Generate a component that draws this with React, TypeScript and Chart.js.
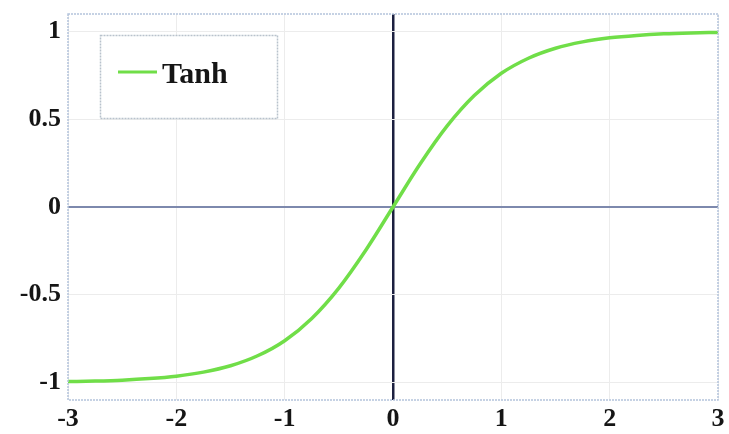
import React, { useEffect, useRef } from "react";
import { Chart, registerables } from "chart.js";

Chart.register(...registerables);

const xValues = [-3, -2.75, -2.5, -2.25, -2, -1.75, -1.5, -1.25, -1, -0.75, -0.5, -0.25, 0, 0.25, 0.5, 0.75, 1, 1.25, 1.5, 1.75, 2, 2.25, 2.5, 2.75, 3];
const tanhValues = [-0.995, -0.992, -0.987, -0.978, -0.964, -0.941, -0.905, -0.848, -0.762, -0.635, -0.462, -0.245, 0, 0.245, 0.462, 0.635, 0.762, 0.848, 0.905, 0.941, 0.964, 0.978, 0.987, 0.992, 0.995];
const xTicks = [-3, -2, -1, 0, 1, 2, 3];
const yTicks = [-1, -0.5, 0, 0.5, 1];
const seriesName = "Tanh";

const GREEN = "rgb(112,222,72)";
const FONT = "'Liberation Serif', 'DejaVu Serif', serif";
const FRAME = "#b4c4dc";

const legendBox = {
  id: "legendBox",
  afterDraw(chart: any) {
    const ctx = chart.ctx;
    ctx.save();
    ctx.fillStyle = "#ffffff";
    ctx.fillRect(100, 35, 177, 83);
    ctx.strokeStyle = "#b8c2cc";
    ctx.lineWidth = 1.5;
    ctx.setLineDash([2, 1]);
    ctx.strokeRect(100.5, 35.5, 177, 83);
    ctx.setLineDash([]);
    ctx.strokeStyle = GREEN;
    ctx.lineWidth = 3;
    ctx.beginPath();
    ctx.moveTo(118, 72);
    ctx.lineTo(157, 72);
    ctx.stroke();
    ctx.fillStyle = "#151515";
    ctx.font = `bold 30px ${FONT}`;
    ctx.textBaseline = "middle";
    ctx.textAlign = "left";
    ctx.fillText(seriesName, 162, 75);
    ctx.restore();
  },
};

const frame = {
  id: "frame",
  afterDraw(chart: any) {
    const { ctx, chartArea: a } = chart;
    ctx.save();
    ctx.strokeStyle = FRAME;
    ctx.lineWidth = 1.5;
    ctx.setLineDash([2, 1]);
    ctx.strokeRect(a.left, a.top, a.right - a.left, a.bottom - a.top);
    ctx.restore();
  },
};

export default function App() {
  const ref = useRef<HTMLCanvasElement>(null);
  useEffect(() => {
    if (!ref.current) return;
    const chart = new Chart(ref.current, {
      type: "line",
      data: {
        datasets: [
          {
            label: seriesName,
            data: xValues.map((x, i) => ({ x, y: tanhValues[i] })),
            borderColor: GREEN,
            borderWidth: 3.5,
            pointRadius: 0,
            cubicInterpolationMode: "monotone",
            fill: false,
          },
        ],
      },
      options: {
        animation: false,
        responsive: false,
        layout: { padding: { top: 14, right: 11, left: 0, bottom: 0 } },
        plugins: { legend: { display: false }, tooltip: { enabled: false } },
        scales: {
          x: {
            type: "linear",
            min: -3,
            max: 3,
            afterBuildTicks: (s: any) => {
              s.ticks = xTicks.map((v) => ({ value: v }));
            },
            afterFit: (s: any) => {
              s.height = 34;
              s.paddingLeft = 0;
              s.paddingRight = 0;
            },
            ticks: {
              padding: 4,
              color: "#151515",
              font: { family: FONT, size: 26, weight: "bold" },
              maxRotation: 0,
              autoSkip: false,
            },
            grid: {
              drawTicks: false,
              color: (c: any) => (c.tick && c.tick.value === 0 ? "#1c2040" : "#ececec"),
              lineWidth: (c: any) => (c.tick && c.tick.value === 0 ? 2.5 : 1),
            },
            border: { display: false },
          },
          y: {
            type: "linear",
            min: -1.1,
            max: 1.1,
            afterBuildTicks: (s: any) => {
              s.ticks = yTicks.map((v) => ({ value: v }));
            },
            afterFit: (s: any) => {
              s.width = 68;
              s.paddingTop = 0;
              s.paddingBottom = 0;
            },
            ticks: {
              padding: 7,
              color: "#151515",
              font: { family: FONT, size: 26, weight: "bold" },
              callback: (v: any) => String(v),
            },
            grid: {
              drawTicks: false,
              color: (c: any) => (c.tick && c.tick.value === 0 ? "#7d89ad" : "#ececec"),
              lineWidth: (c: any) => (c.tick && c.tick.value === 0 ? 2 : 1),
            },
            border: { display: false },
          },
        },
      },
      plugins: [legendBox, frame],
    } as any);
    return () => chart.destroy();
  }, []);
  return (
    <div style={{ position: "fixed", left: 0, top: 0, width: 729, height: 434, background: "#fff" }}>
      <canvas ref={ref} width={729} height={434} style={{ display: "block" }} />
    </div>
  );
}
